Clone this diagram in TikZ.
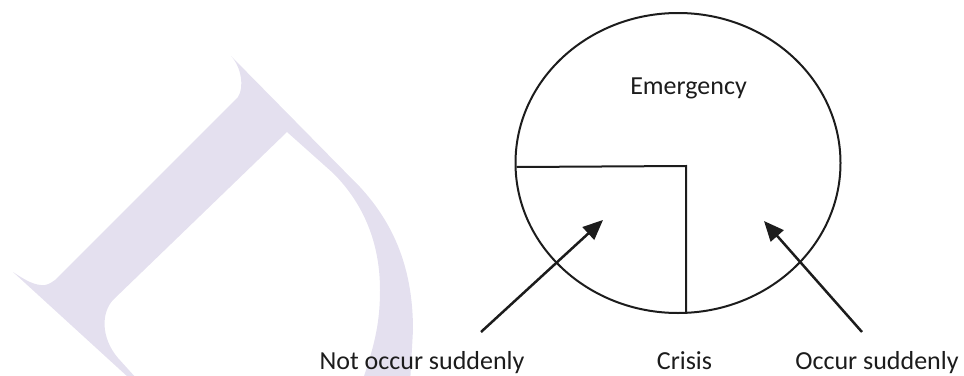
\documentclass[tikz,border=0pt]{standalone}
\usepackage{fontspec}
\setmainfont{Carlito}
\usetikzlibrary{arrows.meta,shapes.geometric}
\definecolor{wm}{RGB}{228,224,239}
\definecolor{ink}{RGB}{28,28,28}
\begin{document}
\begin{tikzpicture}[x=1pt,y=-1pt,
  lab/.style={font=\fontsize{26}{30}\selectfont, text=ink, inner sep=0pt, anchor=base},
  ln/.style={draw=ink, line width=2pt},
  arr/.style={draw=ink, line width=2.5pt, -{Triangle[length=20pt,width=17pt]}}]
\useasboundingbox (0,0) rectangle (964,375);
% watermark
\begin{scope}
\clip (0,0) rectangle (964,375);
\fill[wm, even odd rule]
  (231,56) -- (360,187) .. controls (395,225) and (413,270) .. (413,330) -- (408,420) -- (175,420) -- (13,272)
  .. controls (25,280) and (35,286) .. (45,285) .. controls (50,284) and (52,282) .. (55,280)
  -- (238,97) .. controls (244,88) and (242,68) .. (231,56) -- cycle
  (287,132) -- (113,300) .. controls (101,313) and (101,338) .. (118,358) -- (165,410) -- (352,410)
  .. controls (372,355) and (380,330) .. (380,290) .. controls (380,245) and (365,205) .. (333,173) -- cycle;
\end{scope}
% main diagram
\node[ellipse, draw=ink, line width=2pt, minimum width=325pt, minimum height=300pt, inner sep=0pt] (em) at (678,163) {};
\coordinate (hl) at (516.5,167);
\coordinate (c) at (686,166);
\coordinate (vb) at (686,313);
\draw[ln] (hl) -- (c) -- (vb);
\node[lab] (emt) at (688.5,94) {Emergency};
\node[lab] (nos) at (422,369) {Not occur suddenly};
\node[lab] (cr) at (684.5,369) {Crisis};
\node[lab] (os) at (877,369) {Occur suddenly};
\coordinate (s1) at (481,332);
\coordinate (t1) at (603,220);
\coordinate (s2) at (862,332);
\coordinate (t2) at (764,221);
\draw[arr] (s1) -- (t1);
\draw[arr] (s2) -- (t2);
\end{tikzpicture}
\end{document}
